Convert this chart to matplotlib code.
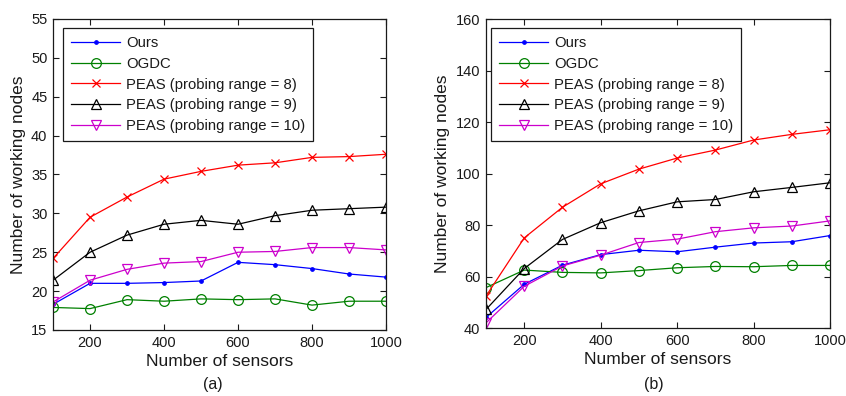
import matplotlib
matplotlib.use("Agg")
import matplotlib.pyplot as plt

plt.rcParams["font.family"] = ["Liberation Sans", "DejaVu Sans"]

sensors = [100, 200, 300, 400, 500, 600, 700, 800, 900, 1000]
labels = ["Ours", "OGDC", "PEAS (probing range = 8)",
          "PEAS (probing range = 9)", "PEAS (probing range = 10)"]

# (a) working nodes
a_ours = [18.3, 21.0, 21.0, 21.1, 21.3, 23.7, 23.4, 22.9, 22.2, 21.8]
a_ogdc = [17.9, 17.75, 18.9, 18.7, 19.0, 18.9, 19.0, 18.2, 18.7, 18.7]
a_peas8 = [24.2, 29.5, 32.1, 34.4, 35.4, 36.2, 36.5, 37.2, 37.3, 37.6]
a_peas9 = [21.4, 25.0, 27.2, 28.6, 29.1, 28.6, 29.7, 30.4, 30.6, 30.8]
a_peas10 = [18.6, 21.4, 22.8, 23.6, 23.8, 25.0, 25.1, 25.6, 25.6, 25.3]

# (b) working nodes
b_ours = [44.1, 57.0, 64.4, 68.5, 70.2, 69.6, 71.4, 73.0, 73.5, 75.9]
b_ogdc = [55.7, 62.5, 61.6, 61.4, 62.3, 63.4, 63.9, 63.8, 64.3, 64.3]
b_peas8 = [52.4, 75.0, 86.9, 96.0, 101.7, 106.0, 109.1, 113.0, 115.2, 117.0]
b_peas9 = [47.2, 63.1, 74.4, 80.9, 85.5, 89.0, 89.9, 92.9, 94.6, 96.4]
b_peas10 = [42.0, 56.2, 64.1, 68.3, 73.2, 74.5, 77.4, 78.9, 79.6, 81.6]

styles = [
    dict(color="#0000ff", marker=".", markersize=5),
    dict(color="#008000", marker="o", markersize=7, markerfacecolor="none"),
    dict(color="#ff0000", marker="x", markersize=6),
    dict(color="#000000", marker="^", markersize=7.5, markerfacecolor="none"),
    dict(color="#cc00cc", marker="v", markersize=7.5, markerfacecolor="none"),
]

ink = "#1a1a1a"


def draw_panel(ax, series, ylim, yticks, leg_anchor):
    for ys, lab, st in zip(series, labels, styles):
        ax.plot(sensors, ys, label=lab, lw=0.9, markeredgewidth=0.9, **st)
    ax.set_xlim(100, 1000)
    ax.set_ylim(*ylim)
    ax.set_xticks([200, 400, 600, 800, 1000])
    ax.set_yticks(yticks)
    ax.tick_params(direction="in", top=True, right=True, length=4,
                   width=0.8, labelsize=10.5, colors=ink, pad=4)
    for sp in ax.spines.values():
        sp.set_linewidth(0.9)
        sp.set_color(ink)
    ax.set_xlabel("Number of sensors", fontsize=12.5, color=ink, labelpad=3)
    ax.set_ylabel("Number of working nodes", fontsize=12.5, color=ink, labelpad=4)
    leg = ax.legend(loc="upper left", bbox_to_anchor=leg_anchor,
                    borderaxespad=0, fancybox=False, fontsize=10.7,
                    handlelength=3.3, handletextpad=0.4, labelspacing=0.45,
                    borderpad=0.55, framealpha=1)
    leg.get_frame().set_edgecolor(ink)
    leg.get_frame().set_linewidth(0.9)
    for t in leg.get_texts():
        t.set_color(ink)


fig = plt.figure(figsize=(8.46, 3.96), dpi=100)
ax1 = fig.add_axes([0.0627, 0.1667, 0.3936, 0.7854])
ax2 = fig.add_axes([0.5745, 0.1717, 0.4066, 0.7803])

draw_panel(ax1, [a_ours, a_ogdc, a_peas8, a_peas9, a_peas10],
           (15, 55), range(15, 60, 5), (0.03, 0.971))
draw_panel(ax2, [b_ours, b_ogdc, b_peas8, b_peas9, b_peas10],
           (40, 160), range(40, 180, 20), (0.0145, 0.971))

fig.text(0.252, 0.03, "(a)", ha="center", va="center", fontsize=11.5, color=ink)
fig.text(0.773, 0.03, "(b)", ha="center", va="center", fontsize=11.5, color=ink)

fig.savefig("out.png", dpi=100)
